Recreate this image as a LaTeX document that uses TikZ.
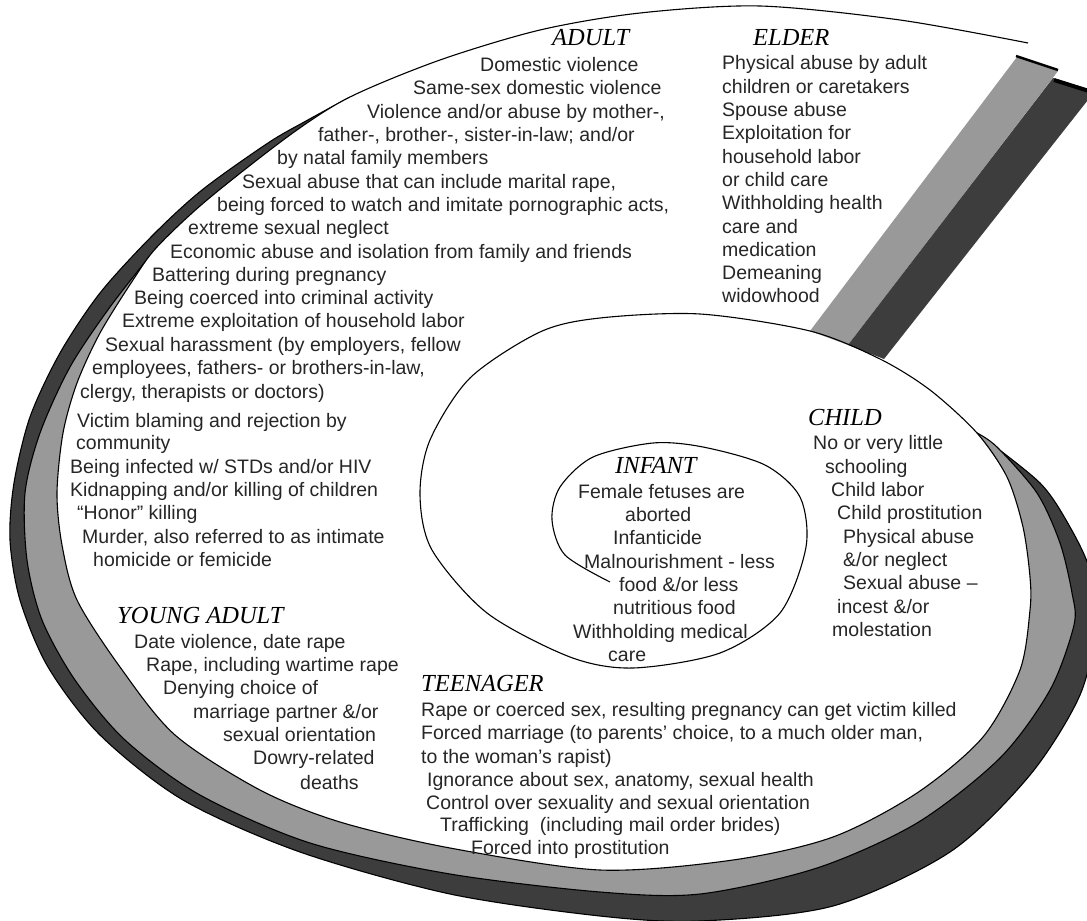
\documentclass[tikz,border=0pt]{standalone}
\usepackage{fontspec}
\usepackage{tikz}
\usepackage{xcolor}
\usetikzlibrary{
    shapes,
    shapes.misc
}
\newfontfamily\abusefont{Liberation Sans}
\newfontfamily\stagefont{Liberation Serif}
\definecolor{bandgrey}{gray}{0.6}
\definecolor{banddark}{gray}{0.24}
\tikzset{
    abuse/.style={anchor=base west, inner sep=0pt, text=black!85, font=\abusefont\fontsize{19.5}{23}\selectfont},
    stage/.style={anchor=base west, inner sep=0pt, font=\stagefont\itshape\fontsize{24.5}{28}\selectfont},
    spiral/.style={line width=1.1pt, line join=round}
}

\begin{document}
\begin{tikzpicture}[x=1pt, y=-1pt]
                \useasboundingbox (0, 0) rectangle (1087, 921);
                \clip (0, 0) rectangle (1087, 921);

                % bands under the ribbon
                \filldraw[fill=banddark, spiral] plot[smooth] coordinates {(350, 97) (306, 121) (268, 143) (202, 190) (152, 236) (100, 293) (60, 353) (30, 417) (14, 483) (10, 540) (20, 600) (48, 667) (100, 735) (183, 800) (300, 852) (450, 894) (600, 916) (700, 921) (833, 906) (950, 852) (1030, 775) (1080, 695) (1097, 620) (1090, 570) (1070, 527) (1040, 483) (977, 433)} -- cycle;
                \filldraw[fill=bandgrey, spiral] plot[smooth] coordinates {(157, 247) (110, 307) (70, 367) (40, 433) (25, 493) (27, 560) (42, 620) (75, 680) (125, 740) (200, 795) (310, 843) (450, 874) (600, 892) (700, 894) (817, 868) (917, 823) (1000, 758) (1050, 690) (1074, 625) (1072, 593) (1060, 543) (1037, 493) (997, 447) (977, 433)} -- cycle;
                \fill[white] plot[smooth] coordinates {(1028, 43) (900, 20) (760, 6) (640, 13) (540, 30) (440, 60) (350, 97) (290, 135) (207, 200) (157, 247) (133, 280) (100, 333) (77, 383) (63, 433) (57, 493) (62, 545) (77, 600) (120, 667) (175, 735) (260, 790) (340, 822) (450, 848) (600, 870) (733, 860) (833, 837) (917, 793) (983, 737) (1020, 670) (1030, 610) (1030, 577) (1023, 527) (1007, 477) (977, 433)} -- cycle;

                % end of the ribbon
                \fill[bandgrey] (810, 331) -- (1017, 57) -- (1058, 71) -- (848, 345) -- cycle;
                \fill[banddark] (848, 345) -- (1053, 78) -- (1095, 91) -- (884, 359) -- cycle;
                \draw[line width=2.5pt] (1016, 56) -- (1058, 70);
                \draw[line width=4pt] (1054, 80) -- (1092, 92);

                % spiral line
                \draw[spiral] plot[smooth] coordinates {(1028, 43) (900, 20) (760, 6) (640, 13) (540, 30) (440, 60) (350, 97) (290, 135) (207, 200) (157, 247) (133, 280) (100, 333) (77, 383) (63, 433) (57, 493) (62, 545) (77, 600) (120, 667) (175, 735) (260, 790) (340, 822) (450, 848) (600, 870) (733, 860) (833, 837) (917, 793) (983, 737) (1020, 670) (1030, 610) (1030, 577) (1023, 527) (1007, 477) (977, 433) (930, 390) (880, 359) (810, 331) (700, 314) (600, 318) (540, 332) (470, 378) (430, 440) (420, 495) (432, 550) (487, 613) (570, 657) (633, 668) (720, 653) (780, 613) (806, 547) (800, 497) (765, 465) (703, 447) (653, 443) (593, 457) (560, 487) (552, 520) (565, 555) (610, 582)};

                % adult
                \node[stage] (adult head) at (552, 45) {ADULT};
                \node[abuse] (adult 1) at (480, 71) {Domestic violence};
                \node[abuse] (adult 2) at (413, 94) {Same-sex domestic violence};
                \node[abuse] (adult 3) at (367, 118) {Violence and/or abuse by mother-,};
                \node[abuse] (adult 4) at (318, 141) {father-, brother-, sister-in-law; and/or};
                \node[abuse] (adult 5) at (277, 164) {by natal family members};
                \node[abuse] (adult 6) at (242, 188) {Sexual abuse that can include marital rape,};
                \node[abuse] (adult 7) at (217, 211) {being forced to watch and imitate pornographic acts,};
                \node[abuse] (adult 8) at (188, 234) {extreme sexual neglect};
                \node[abuse] (adult 9) at (170, 258) {Economic abuse and isolation from family and friends};
                \node[abuse] (adult 10) at (152, 281) {Battering during pregnancy};
                \node[abuse] (adult 11) at (134, 304) {Being coerced into criminal activity};
                \node[abuse] (adult 12) at (122, 327) {Extreme exploitation of household labor};
                \node[abuse] (adult 13) at (105, 351) {Sexual harassment (by employers, fellow};
                \node[abuse] (adult 14) at (92, 374) {employees, fathers- or brothers-in-law,};
                \node[abuse] (adult 15) at (80, 398) {clergy, therapists or doctors)};
                \node[abuse] (adult 16) at (77, 427) {Victim blaming and rejection by};
                \node[abuse] (adult 17) at (76, 449) {community};
                \node[abuse] (adult 18) at (70, 473) {Being infected w/ STDs and/or HIV};
                \node[abuse] (adult 19) at (70, 496) {Kidnapping and/or killing of children};
                \node[abuse] (adult 20) at (77, 519) {“Honor” killing};
                \node[abuse] (adult 21) at (82, 543) {Murder, also referred to as intimate};
                \node[abuse] (adult 22) at (93, 566) {homicide or femicide};

                % elder
                \node[stage] (elder head) at (753, 45) {ELDER};
                \node[abuse] (elder 1) at (722, 69) {Physical abuse by adult};
                \node[abuse] (elder 2) at (722, 93) {children or caretakers};
                \node[abuse] (elder 3) at (722, 116) {Spouse abuse};
                \node[abuse] (elder 4) at (722, 139) {Exploitation for};
                \node[abuse] (elder 5) at (722, 163) {household labor};
                \node[abuse] (elder 6) at (722, 186) {or child care};
                \node[abuse] (elder 7) at (722, 209) {Withholding health};
                \node[abuse] (elder 8) at (722, 233) {care and};
                \node[abuse] (elder 9) at (722, 256) {medication};
                \node[abuse] (elder 10) at (722, 279) {Demeaning};
                \node[abuse] (elder 11) at (722, 302) {widowhood};

                % child
                \node[stage] (child head) at (808, 425) {CHILD};
                \node[abuse] (child 1) at (813, 449) {No or very little};
                \node[abuse] (child 2) at (825, 473) {schooling};
                \node[abuse] (child 3) at (831, 496) {Child labor};
                \node[abuse] (child 4) at (837, 519) {Child prostitution};
                \node[abuse] (child 5) at (843, 543) {Physical abuse};
                \node[abuse] (child 6) at (843, 566) {\&/or neglect};
                \node[abuse] (child 7) at (843, 589) {Sexual abuse –};
                \node[abuse] (child 8) at (837, 613) {incest \&/or};
                \node[abuse] (child 9) at (832, 636) {molestation};

                % infant
                \node[stage] (infant head) at (615, 473) {INFANT};
                \node[abuse] (infant 1) at (578, 498) {Female fetuses are};
                \node[abuse] (infant 2) at (625, 521) {aborted};
                \node[abuse] (infant 3) at (613, 544) {Infanticide};
                \node[abuse] (infant 4) at (584, 568) {Malnourishment - less};
                \node[abuse] (infant 5) at (619, 591) {food \&/or less};
                \node[abuse] (infant 6) at (613, 614) {nutritious food};
                \node[abuse] (infant 7) at (573, 638) {Withholding medical};
                \node[abuse] (infant 8) at (608, 661) {care};

                % teenager
                \node[stage] (teen head) at (421, 691) {TEENAGER};
                \node[abuse] (teen 1) at (421, 716) {Rape or coerced sex, resulting pregnancy can get victim killed};
                \node[abuse] (teen 2) at (421, 739) {Forced marriage (to parents’ choice, to a much older man,};
                \node[abuse] (teen 3) at (421, 763) {to the woman’s rapist)};
                \node[abuse] (teen 4) at (427, 786) {Ignorance about sex, anatomy, sexual health};
                \node[abuse] (teen 5) at (426, 809) {Control over sexuality and sexual orientation};
                \node[abuse] (teen 6) at (440, 831) {Trafficking\ \ (including mail order brides)};
                \node[abuse] (teen 7) at (471, 854) {Forced into prostitution};

                % young adult
                \node[stage] (young head) at (117, 623) {YOUNG ADULT};
                \node[abuse] (young 1) at (134, 648) {Date violence, date rape};
                \node[abuse] (young 2) at (146, 671) {Rape, including wartime rape};
                \node[abuse] (young 3) at (163, 694) {Denying choice of};
                \node[abuse] (young 4) at (193, 718) {marriage partner \&/or};
                \node[abuse] (young 5) at (223, 741) {sexual orientation};
                \node[abuse] (young 6) at (253, 764) {Dowry-related};
                \node[abuse] (young 7) at (300, 789) {deaths};
            \end{tikzpicture}
\end{document}
